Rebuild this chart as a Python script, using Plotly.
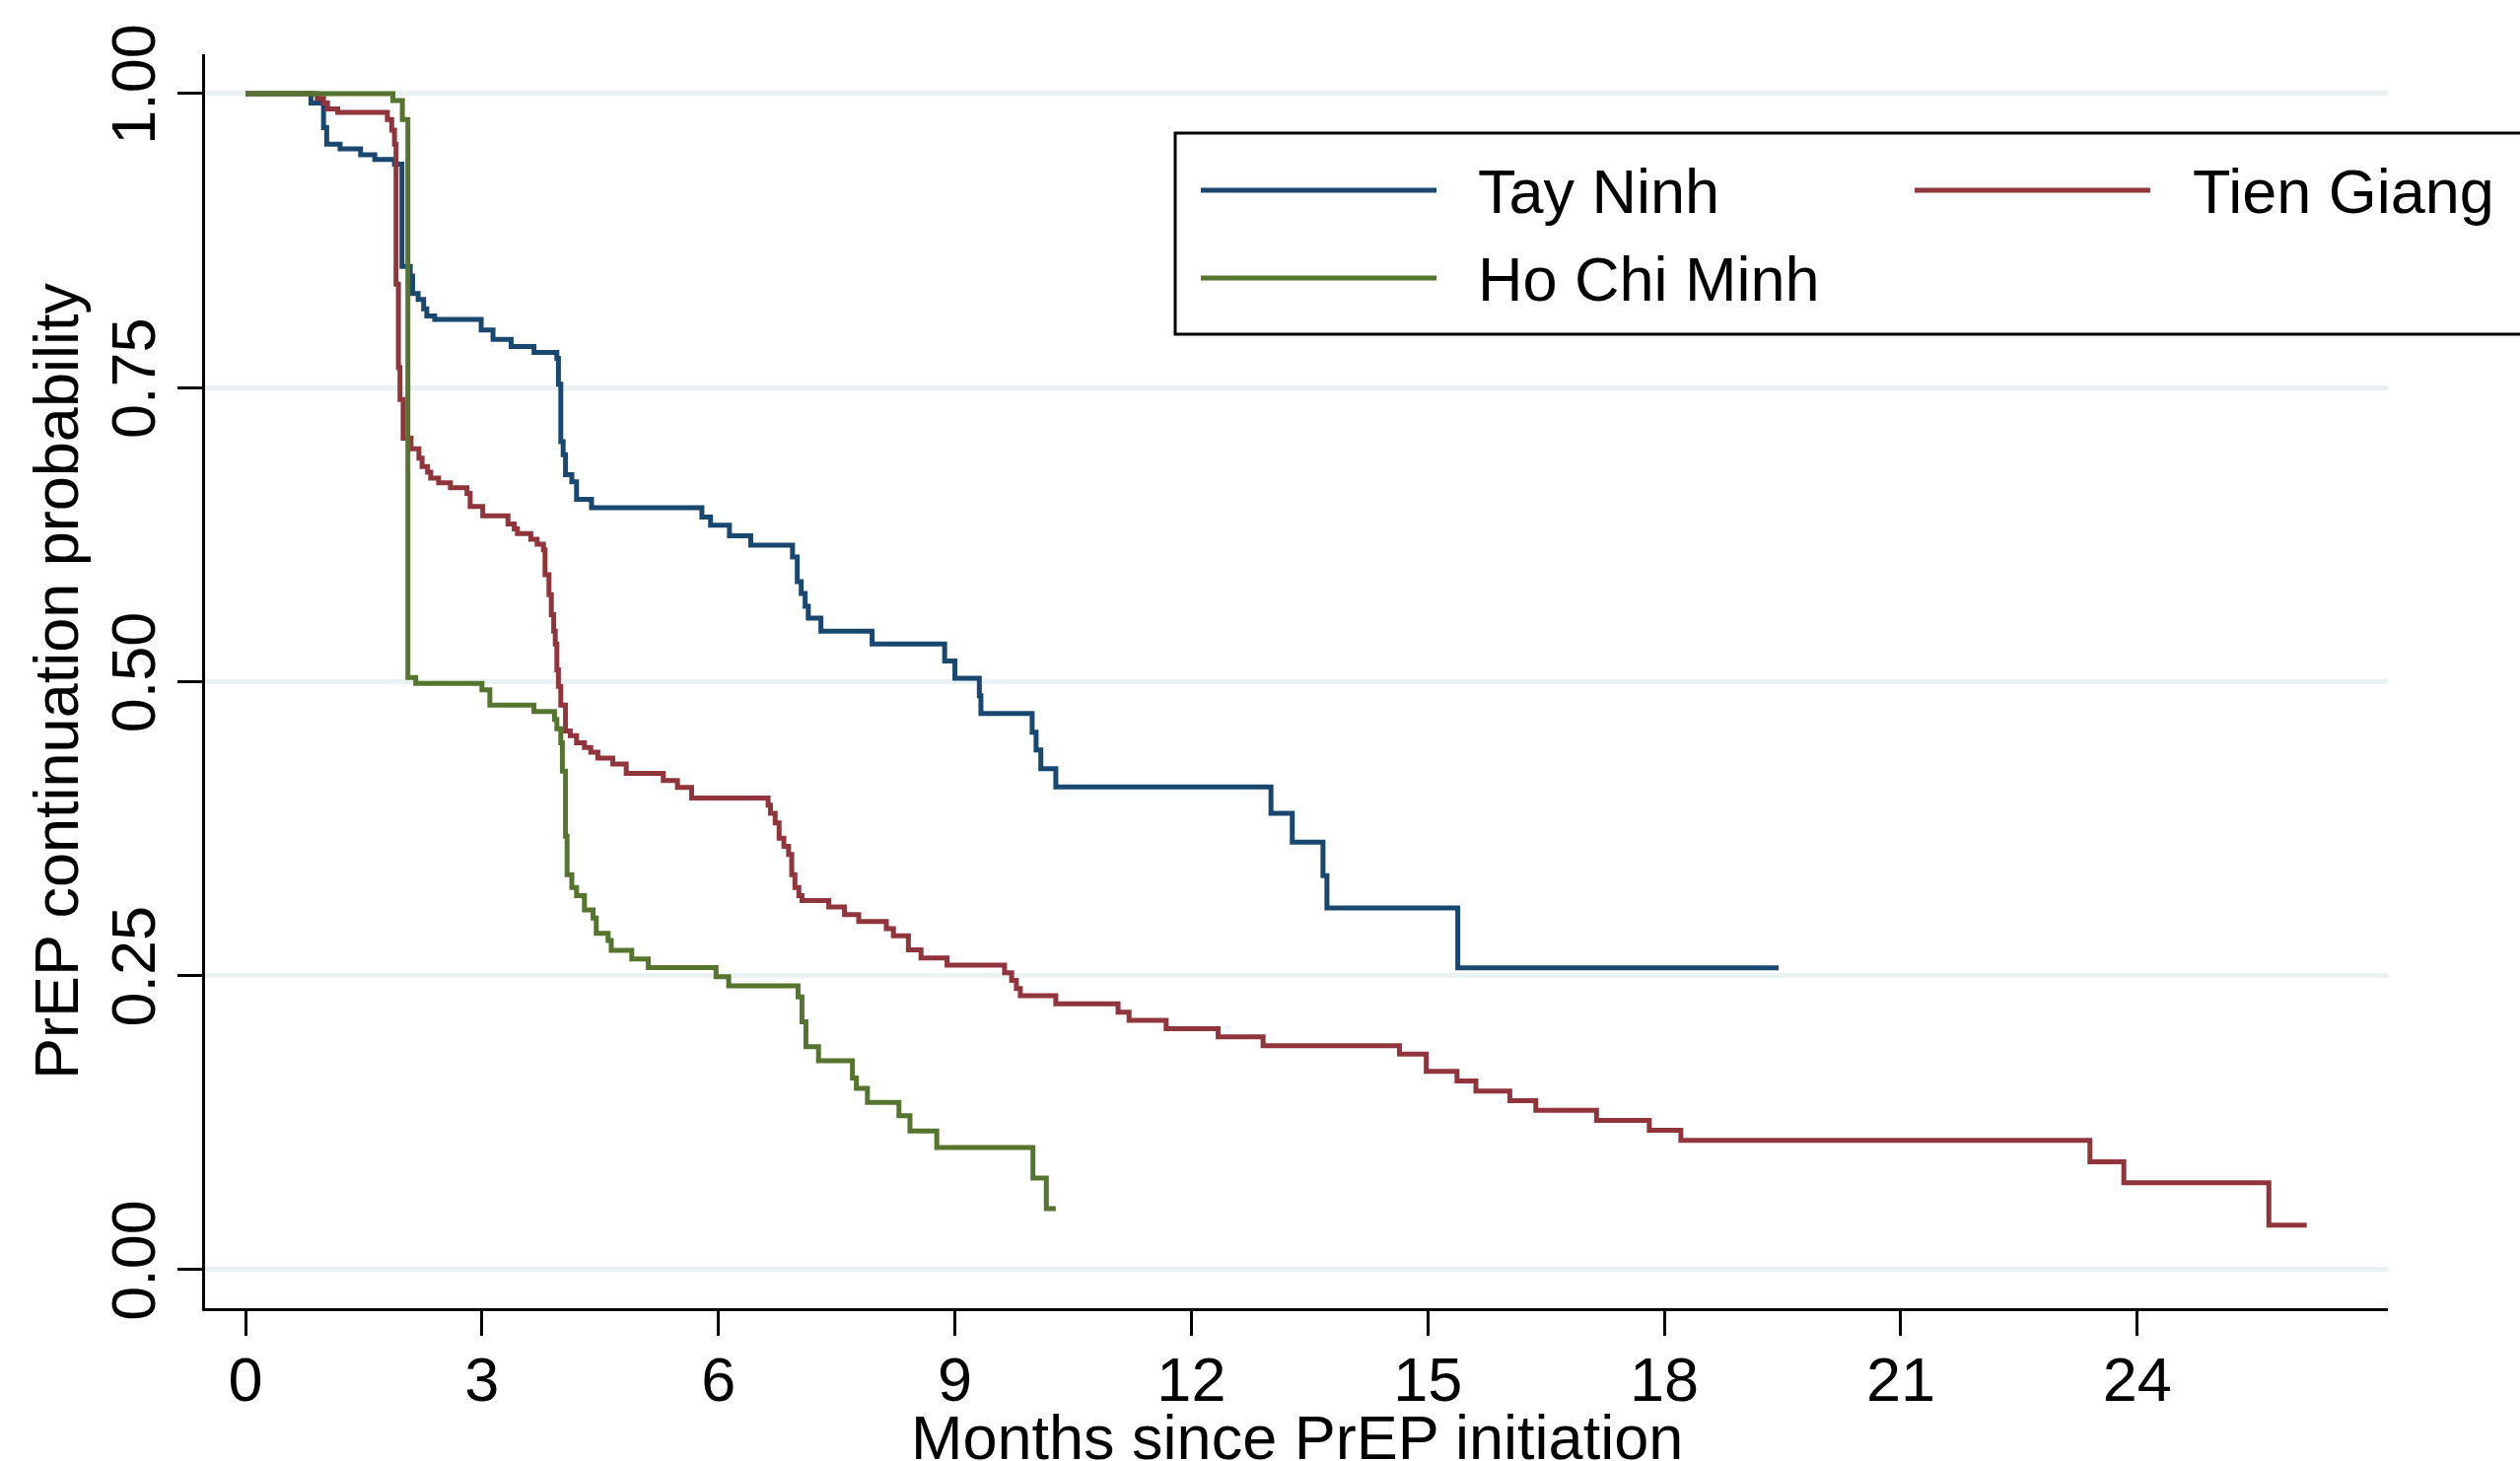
import plotly.graph_objects as go

# ---------------- data ----------------
tay_ninh_t = [0, 0.83, 0.99, 1.03, 1.20, 1.46, 1.64, 1.89, 1.985, 2.09, 2.12, 2.19, 2.26, 2.30, 2.40,
              2.99, 3.14, 3.37, 3.66, 3.95, 3.97, 4.00, 4.03, 4.06, 4.14, 4.20, 4.39, 5.79, 5.90,
              6.14, 6.41, 6.94, 7.00, 7.05, 7.10, 7.14, 7.30, 7.95, 8.87, 9.00, 9.31, 9.33, 9.98,
              10.03, 10.09, 10.28, 13.01, 13.28, 13.67, 13.72, 15.38, 19.45]
tay_ninh_s = [1.0, 0.992, 0.971, 0.957, 0.953, 0.948, 0.944, 0.940, 0.853, 0.845, 0.830, 0.825, 0.817, 0.811, 0.808,
              0.799, 0.791, 0.785, 0.780, 0.775, 0.753, 0.704, 0.693, 0.676, 0.670, 0.655, 0.648, 0.640, 0.633,
              0.624, 0.616, 0.606, 0.585, 0.575, 0.564, 0.554, 0.543, 0.532, 0.5175, 0.503, 0.488, 0.473, 0.457,
              0.442, 0.426, 0.4105, 0.388, 0.3635, 0.335, 0.3077, 0.2567, 0.2567]

tien_giang_t = [0, 0.91, 0.99, 1.04, 1.17, 1.80, 1.855, 1.89, 1.91, 1.94, 1.96, 2.00, 2.10, 2.20, 2.24,
                2.31, 2.35, 2.45, 2.60, 2.81, 2.85, 3.01, 3.33, 3.41, 3.45, 3.62, 3.70, 3.78, 3.80, 3.85,
                3.88, 3.91, 3.93, 3.95, 3.97, 4.00, 4.06, 4.12, 4.20, 4.30, 4.38, 4.47, 4.66, 4.83, 5.30,
                5.48, 5.66, 6.63, 6.66, 6.72, 6.77, 6.83, 6.89, 6.93, 6.97, 7.02, 7.06, 7.40, 7.60, 7.78,
                8.13, 8.22, 8.41, 8.57, 8.90, 9.63, 9.72, 9.78, 9.83, 10.28, 11.07, 11.21, 11.68, 12.34,
                12.91, 14.64, 14.98, 15.37, 15.61, 16.04, 16.37, 17.14, 17.81, 18.21, 23.40, 23.83,
                25.67, 26.15]
tien_giang_s = [1.0, 0.996, 0.992, 0.987, 0.984, 0.978, 0.969, 0.957, 0.838, 0.767, 0.740, 0.707, 0.698, 0.690, 0.683,
                0.678, 0.673, 0.669, 0.665, 0.660, 0.649, 0.641, 0.634, 0.630, 0.626, 0.621, 0.617, 0.612, 0.591, 0.574,
                0.557, 0.543, 0.532, 0.510, 0.496, 0.480, 0.458, 0.454, 0.448, 0.444, 0.440, 0.435, 0.430, 0.422, 0.416,
                0.410, 0.401, 0.395, 0.388, 0.380, 0.367, 0.360, 0.353, 0.336, 0.325, 0.318, 0.314, 0.3085, 0.302, 0.296,
                0.290, 0.284, 0.272, 0.265, 0.259, 0.2525, 0.246, 0.239, 0.233, 0.226, 0.219, 0.212, 0.205, 0.198,
                0.1905, 0.1834, 0.1687, 0.1605, 0.152, 0.1438, 0.1355, 0.127, 0.1187, 0.110, 0.0917, 0.074,
                0.0379, 0.0379]

ho_chi_minh_t = [0, 1.87, 1.99, 2.06, 2.16, 3.00, 3.10, 3.66, 3.92, 3.95, 4.00, 4.02, 4.06, 4.08, 4.14,
                 4.20, 4.30, 4.41, 4.45, 4.60, 4.64, 4.90, 5.11, 5.97, 6.13, 7.01, 7.06, 7.11, 7.27, 7.70,
                 7.75, 7.89, 8.29, 8.43, 8.77, 9.99, 10.16, 10.28]
ho_chi_minh_s = [1.0, 0.994, 0.978, 0.5035, 0.4985, 0.493, 0.480, 0.4747, 0.468, 0.460, 0.448, 0.424, 0.3686, 0.336, 0.325,
                 0.318, 0.306, 0.299, 0.286, 0.280, 0.2716, 0.2643, 0.2568, 0.2492, 0.2414, 0.232, 0.2107, 0.1897, 0.1777, 0.163,
                 0.1542, 0.1422, 0.131, 0.118, 0.104, 0.078, 0.052, 0.052]

series_names = ["Tay Ninh", "Tien Giang", "Ho Chi Minh"]
series_colors = ["#1A476F", "#90353B", "#55752F"]

x_ticks = [0, 3, 6, 9, 12, 15, 18, 21, 24]
x_tick_labels = ["0", "3", "6", "9", "12", "15", "18", "21", "24"]
y_ticks = [0.0, 0.25, 0.5, 0.75, 1.0]
y_tick_labels = ["0.00", "0.25", "0.50", "0.75", "1.00"]

x_title = "Months since PrEP initiation"
y_title = "PrEP continuation probability"

# ---------------- figure ----------------
FONT = "Liberation Sans, Arial, Helvetica, sans-serif"
FS = 63
W, H = 2556, 1482
ML, MR, MT, MB = 208, 134, 55, 155
LW = 5

times = [tay_ninh_t, tien_giang_t, ho_chi_minh_t]
survs = [tay_ninh_s, tien_giang_s, ho_chi_minh_s]

fig = go.Figure()
for name, t, s, c in zip(series_names, times, survs, series_colors):
    fig.add_trace(go.Scatter(x=t, y=s, mode="lines", name=name, showlegend=False,
                             line=dict(color=c, width=LW, shape="hv")))


def px_x(p):
    return (p - ML) / (W - ML - MR)


def px_y(p):
    return (H - MB - p) / (H - MT - MB)


# manual legend (box clipped at the right edge, as in the reference)
shapes = [dict(type="rect", xref="paper", yref="paper", x0=px_x(1192), x1=px_x(2650),
               y0=px_y(339), y1=px_y(135), line=dict(color="black", width=3),
               fillcolor="white", layer="above")]
annotations = []
legend_slots = [(1218, 1457, 193, 1497), (1942, 2181, 193, 2222), (1218, 1457, 282, 1497)]
for (lx0, lx1, ly, tx), name, c in zip(legend_slots, series_names, series_colors):
    shapes.append(dict(type="line", xref="paper", yref="paper", x0=px_x(lx0), x1=px_x(lx1),
                       y0=px_y(ly), y1=px_y(ly), line=dict(color=c, width=LW), layer="above"))
    annotations.append(dict(text=name, xref="paper", yref="paper", x=px_x(tx), y=px_y(ly + 1),
                            xanchor="left", yanchor="middle", showarrow=False,
                            font=dict(family=FONT, size=FS, color="black")))

# x-axis title (placed like the reference: near the bottom edge of the image)
annotations.append(dict(text=x_title, xref="paper", yref="paper", x=0.5, y=px_y(1421),
                        xanchor="center", yanchor="top", showarrow=False,
                        font=dict(family=FONT, size=FS, color="black")))

fig.update_layout(
    width=W, height=H,
    margin=dict(l=ML, r=MR, t=MT, b=MB, pad=0),
    paper_bgcolor="white", plot_bgcolor="white",
    font=dict(family=FONT, size=FS, color="black"),
    shapes=shapes, annotations=annotations,
    showlegend=False,
)
fig.update_xaxes(
    range=[-0.513, 27.18], tickvals=x_ticks, ticktext=x_tick_labels,
    showline=True, linecolor="black", linewidth=3, mirror=False,
    ticks="outside", ticklen=25, tickwidth=2.5, tickcolor="black",
    showgrid=False, zeroline=False, automargin=False, ticklabelstandoff=-10,
    tickfont=dict(family=FONT, size=FS, color="black"),
)
fig.update_yaxes(
    range=[-0.0327, 1.0335], tickvals=y_ticks, ticktext=y_tick_labels, tickangle=-90,
    showline=True, linecolor="black", linewidth=3, mirror=False,
    ticks="outside", ticklen=25, tickwidth=2.5, tickcolor="black",
    showgrid=True, gridcolor="#EAF1F3", gridwidth=5, zeroline=False, automargin=False,
    ticklabelstandoff=-2,
    tickfont=dict(family=FONT, size=FS, color="black"),
    title=dict(text=y_title, font=dict(family=FONT, size=FS, color="black"), standoff=0),
)

fig.write_html("out.html", config={"displayModeBar": False},
               post_script="document.body.style.margin='0px';")
